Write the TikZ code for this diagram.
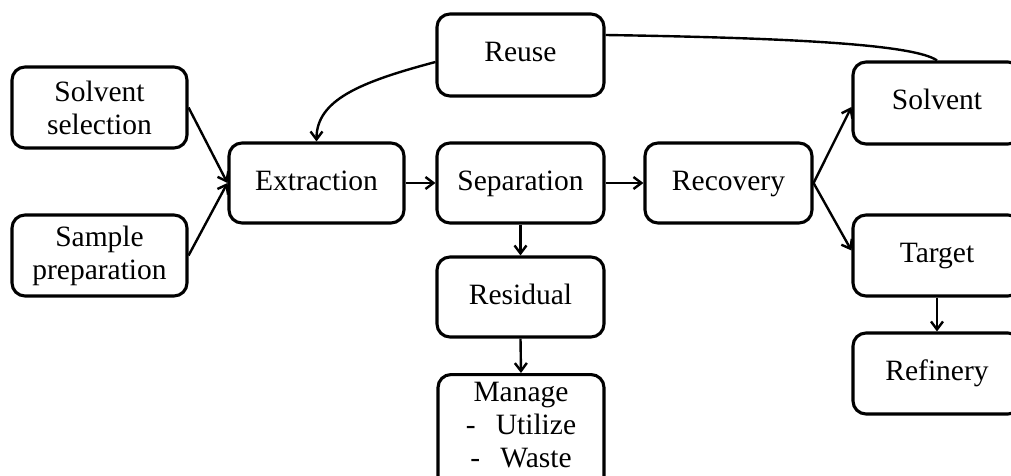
\documentclass[tikz,border=0pt]{standalone}
\usepackage{fontspec}
\setmainfont{Liberation Serif}
\usetikzlibrary{arrows.meta}
\begin{document}
\begin{tikzpicture}[x=1pt,y=-1pt,
  box/.style={draw, line width=3.1pt, rounded corners=13pt, inner sep=0pt, align=center,
    font=\fontsize{29.5}{33}\selectfont},
  one/.style={text height=20pt, text depth=6pt},
  lbl/.style={inner sep=0pt, align=center, font=\fontsize{29.5}{33}\selectfont},
  arr/.style={line width=2.4pt, -{Straight Barb[length=8pt,width=12pt,line width=2.4pt]}},
  link/.style={line width=2.4pt}]
\useasboundingbox (0,0) rectangle (1011,476);
\clip (0,0) rectangle (1011,476);
\fill[white] (0,0) rectangle (1011,476);

\node[box, minimum width=175, minimum height=81] (sol) at (99.5,107.5) {Solvent\\selection};
\node[box, minimum width=175, minimum height=81] (sam) at (99.5,255.5) {Sample\\preparation};
\node[box, one, minimum width=175, minimum height=80] (ext) at (316.5,183) {Extraction};
\node[box, one, minimum width=167, minimum height=82] (reu) at (520.5,55) {Reuse};
\node[box, one, minimum width=167, minimum height=80] (sep) at (520.5,183) {Separation};
\node[box, one, minimum width=167, minimum height=80] (res) at (520.5,297) {Residual};
\node[box, minimum width=166, minimum height=140, anchor=north] (man) at (521,373) {};
\node[lbl] (mantext) at (521,425) {Manage\\\makebox[30pt][l]{-}Utilize\\\makebox[30pt][l]{-}Waste};
\node[box, one, minimum width=167, minimum height=80] (rec) at (728.5,183) {Recovery};
\node[box, one, minimum width=168, minimum height=82] (solv) at (937,103) {Solvent};
\node[box, one, minimum width=168, minimum height=81] (tar) at (937,255.5) {Target};
\node[box, one, minimum width=168, minimum height=81] (ref) at (937,373.5) {Refinery};

\draw[arr] (sol.east) -- (ext.west);
\draw[arr] (sam.east) -- (ext.west);
\draw[arr] (ext.east) -- (sep.west);
\draw[arr] (sep.east) -- (rec.west);
\draw[arr] (rec.east) -- ([yshift=-4pt]solv.west);
\draw[arr] (rec.east) -- ([yshift=5pt]tar.west);
\draw[arr] (sep.south) -- (res.north);
\draw[arr] (res.south) -- (man.north);
\draw[arr] (tar.south) -- (ref.north);
\draw[arr] ([yshift=-7pt]reu.west) .. controls (360,82) and (316.5,100) .. (ext.north);
\draw[link] ([yshift=20pt]reu.east) .. controls (800,38) and (915,45) .. (solv.north);
\end{tikzpicture}
\end{document}
